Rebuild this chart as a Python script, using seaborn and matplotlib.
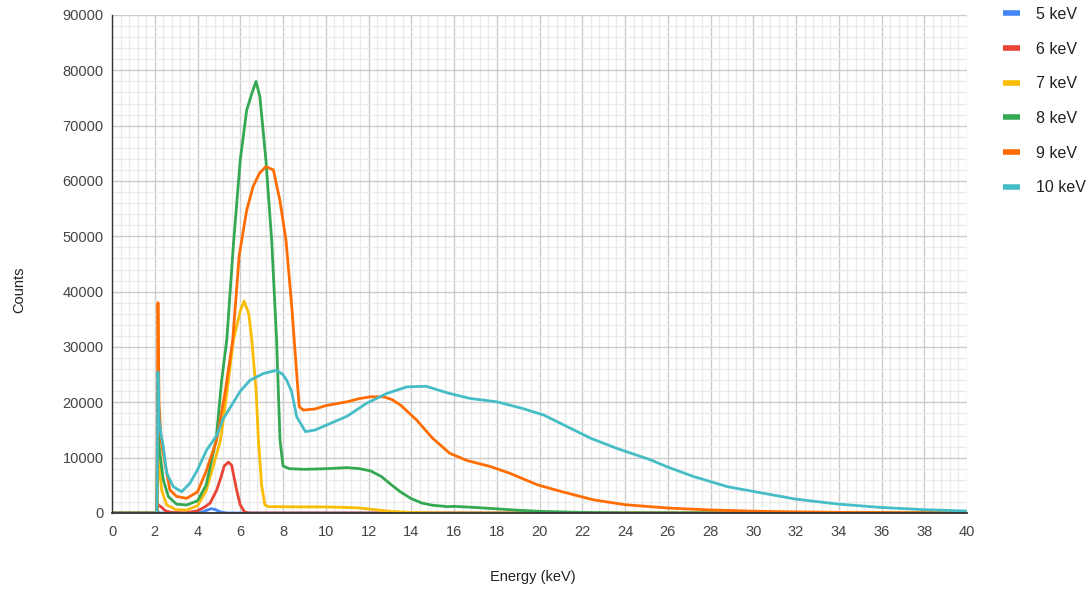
import numpy as np
import pandas as pd
import seaborn as sns
import matplotlib.pyplot as plt
from matplotlib.lines import Line2D
from matplotlib.ticker import MultipleLocator

# spectra (energy in keV, counts)
e5 = [0, 2.1, 2.15, 2.25, 4.0, 4.2, 4.4, 4.65, 4.85, 5.0, 5.2, 5.4, 40]
c5 = [0, 0, 250, 0, 0, 150, 450, 780, 600, 300, 100, 0, 0]

e6 = [0, 2.1, 2.15, 2.3, 2.5, 2.8, 3.5, 4.0, 4.3, 4.58, 4.9, 5.1, 5.25, 5.45, 5.6, 5.83, 6.0, 6.2, 6.4, 40]
c6 = [0, 0, 1500, 1100, 400, 100, 50, 400, 1000, 1750, 4150, 6500, 8500, 9200, 8600, 4150, 1450, 200, 0, 0]

e7 = [0, 2.1, 2.15, 2.2, 2.32, 2.56, 3.0, 3.49, 4.0, 4.4, 4.7, 5.08, 5.4, 5.68, 6.0, 6.18, 6.4, 6.54, 6.74,
      6.85, 7.0, 7.15, 7.3, 9, 10, 11, 11.6, 12.4, 13, 14, 15, 16, 40]
c7 = [0, 0, 18000, 9000, 4150, 1450, 600, 540, 1300, 4000, 8000, 13200, 22500, 31260, 36500, 38300, 36000, 31300, 22200,
      13200, 5000, 1500, 1150, 1100, 1100, 1000, 900, 550, 300, 100, 30, 0, 0]

e8 = [0, 2.1, 2.15, 2.2, 2.4, 2.64, 3.02, 3.49, 4.0, 4.4, 4.87, 5.13, 5.37, 5.68, 6.0, 6.3, 6.54, 6.74, 6.92, 7.2,
      7.47, 7.7, 7.86, 8.0, 8.3, 9, 10, 11, 11.6, 12.1, 12.6, 13.1, 13.5, 14.0, 14.5, 15.0, 15.7, 16, 17, 18, 19,
      20, 22, 24, 40]
c8 = [0, 0, 22000, 12000, 6000, 2950, 1600, 1450, 2200, 5000, 13200, 24000, 31260, 48500, 63800, 72800, 75800, 78000, 75200, 63800,
      49300, 31300, 13200, 8500, 8000, 7900, 8000, 8200, 8000, 7600, 6600, 5000, 3800, 2600, 1800, 1400, 1150, 1200, 1000, 750, 500,
      300, 100, 30, 0]

e9 = [0, 2.1, 2.15, 2.2, 2.3, 2.48, 2.71, 3.02, 3.49, 4.0, 4.4, 4.9, 5.3, 5.65, 5.95, 6.3, 6.6, 6.9, 7.2, 7.55,
      7.85, 8.14, 8.41, 8.64, 8.76, 8.95, 9.5, 10, 11, 11.6, 12.1, 12.7, 13.1, 13.5, 14.25, 15, 15.8, 16.6, 17.7,
      18.6, 19.9, 21, 22.5, 24, 26, 28, 30, 32, 34, 36, 38, 40]
c9 = [0, 0, 38000, 20000, 13000, 9000, 4150, 3000, 2650, 3800, 7500, 13200, 22000, 31260, 46500, 54700, 59000, 61400, 62600, 62000,
      56600, 49300, 37300, 25200, 19200, 18600, 18800, 19400, 20100, 20700, 21000, 21000, 20500, 19500, 16800, 13500, 10800, 9500, 8400,
      7200, 5100, 3900, 2400, 1500, 900, 550, 330, 200, 120, 70, 40, 20]

e10 = [0, 2.1, 2.15, 2.2, 2.3, 2.4, 2.56, 2.87, 3.26, 3.65, 4.0, 4.43, 4.9, 5.2, 5.68, 6.0, 6.46, 7.08, 7.7, 8.0,
       8.17, 8.4, 8.64, 9.05, 9.5, 10.04, 11, 11.9, 12.85, 13.8, 14.7, 15.7, 16.75, 18, 19.2, 20.2, 21.3, 22.4,
       23.6, 25.2, 26, 27.2, 28.8, 30, 32, 34, 36, 38, 40]
c10 = [0, 0, 25500, 17000, 14000, 12000, 7200, 4750, 3850, 5400, 7800, 11400, 14000, 17000, 20000, 22000, 24000, 25200, 25800, 25000,
       24000, 22000, 17400, 14700, 15000, 15900, 17500, 19800, 21600, 22800, 22900, 21700, 20700, 20100, 18900, 17700, 15600, 13500,
       11700, 9600, 8300, 6600, 4750, 3900, 2500, 1600, 1000, 600, 350]

labels = ["5 keV", "6 keV", "7 keV", "8 keV", "9 keV", "10 keV"]
colors = ["#4285F4", "#EA4335", "#FBBC04", "#34A853", "#FF6D01", "#46BDC6"]

frames = []
for lab, e, c in zip(labels, [e5, e6, e7, e8, e9, e10], [c5, c6, c7, c8, c9, c10]):
    frames.append(pd.DataFrame({"Energy": e, "Counts": c, "Beam": lab}))
df = pd.concat(frames, ignore_index=True)

sns.set_theme(style="white")
plt.rcParams["font.family"] = ["Liberation Sans", "DejaVu Sans"]

fig = plt.figure(figsize=(10.91, 5.91), dpi=100)
ax = fig.add_axes([112 / 1091, 78 / 591, 855 / 1091, 498 / 591])

sns.lineplot(data=df, x="Energy", y="Counts", hue="Beam", hue_order=labels,
             palette=colors, estimator=None, sort=False, linewidth=2, ax=ax, legend=False)

ax.set_xlim(0, 40)
ax.set_ylim(0, 90000)
ax.xaxis.set_major_locator(MultipleLocator(2))
ax.xaxis.set_minor_locator(MultipleLocator(0.4))
ax.yaxis.set_major_locator(MultipleLocator(10000))
ax.yaxis.set_minor_locator(MultipleLocator(2000))
ax.grid(which="major", color="#cccccc", linewidth=1)
ax.grid(which="minor", color="#ebebeb", linewidth=1)
ax.set_axisbelow(True)
ax.tick_params(which="both", length=0)
ax.tick_params(axis="x", labelsize=10.5, pad=9, colors="#444444")
ax.tick_params(axis="y", labelsize=10.5, pad=6, colors="#444444")
for s in ["top", "right"]:
    ax.spines[s].set_visible(False)
ax.spines["left"].set_color("#333333")
ax.spines["bottom"].set_color("#333333")
ax.spines["left"].set_linewidth(1)
ax.spines["bottom"].set_linewidth(1.3)

ax.set_xlabel("Energy (keV)", fontsize=10.5, color="#222222")
ax.set_ylabel("Counts", fontsize=10.5, color="#222222")
ax.xaxis.set_label_coords((533 - 112) / 855, (513 - 577) / 498)
ax.xaxis.label.set_va("center")
ax.yaxis.set_label_coords((19 - 112) / 855, (513 - 290) / 498)
ax.yaxis.label.set_va("center")

handles = [Line2D([0], [0], color=c, linewidth=4, solid_capstyle="butt") for c in colors]
fig.legend(handles, labels, loc="upper left", bbox_to_anchor=(1003 / 1091, 1 - 7 / 591),
           frameon=False, fontsize=11.5, handlelength=1.06, handletextpad=1.0, labelspacing=1.23,
           borderpad=0, borderaxespad=0, labelcolor="#222222")

fig.savefig("out.png", dpi=100)
